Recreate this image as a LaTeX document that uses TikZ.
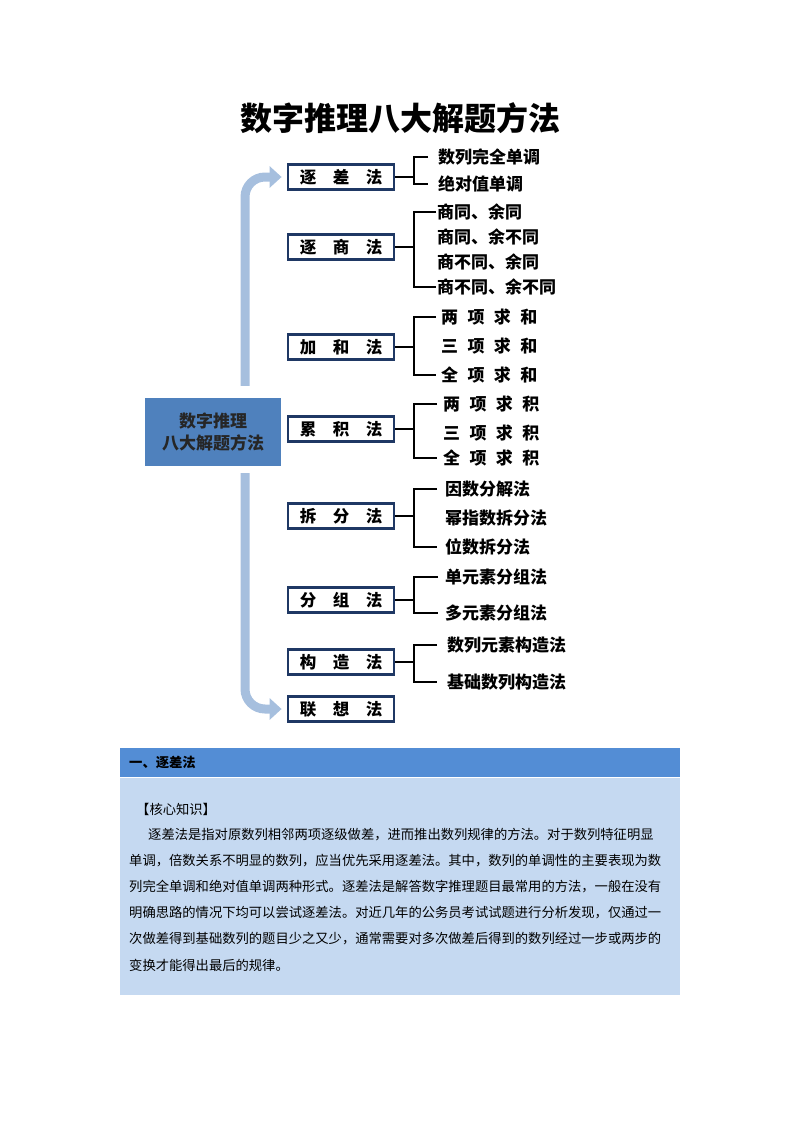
\documentclass[tikz,border=0pt]{standalone}
\usepackage{fontspec}
\setmainfont{Noto Sans CJK SC}
\usetikzlibrary{arrows.meta}
\definecolor{flowblue}{RGB}{166,191,222}
\definecolor{rootblue}{RGB}{79,129,189}
\definecolor{boxnavy}{RGB}{31,56,100}
\definecolor{headblue}{RGB}{83,141,213}
\definecolor{paleblue}{RGB}{197,217,241}
\newcommand\jg{\hspace{0.55em}}
\tikzset{
    method/.style={draw=boxnavy, line width=2.8pt, fill=white, minimum width=106pt,
        minimum height=25pt, inner sep=0pt, font=\fontsize{16.5}{16.5}\selectfont\bfseries},
    leaf/.style={anchor=west, inner sep=0pt, font=\fontsize{17}{17}\selectfont\bfseries},
    brk/.style={line width=1.6pt},
    flow/.style={draw=flowblue, line width=9pt, rounded corners=20pt,
        -{Triangle[width=21pt,length=12pt]}},
    body/.style={anchor=west, inner sep=0pt, font=\fontsize{13.3}{13.3}\selectfont},
}
\begin{document}
\begin{tikzpicture}[x=1pt, y=-1pt]
    \useasboundingbox (0,0) rectangle (800,1132);
    \node [font=\fontsize{32}{32}\selectfont\bfseries] (title) at (400,118) {数字推理八大解题方法};
    \coordinate (ax) at (245,0);
    \coordinate (bx) at (414,0);
    % root
    \node [fill=rootblue, minimum width=136pt, minimum height=68pt, inner sep=0pt, align=center,
        text=black!85, font=\fontsize{17}{21.5}\selectfont\bfseries] (root) at (213,432) {数字推理\\八大解题方法};
    % methods
    \foreach \i/\y/\txt in {1/177/逐\quad 差\quad 法, 2/247/逐\quad 商\quad 法, 3/347/加\quad 和\quad 法,
        4/429/累\quad 积\quad 法, 5/516/拆\quad 分\quad 法, 6/600/分\quad 组\quad 法,
        7/662/构\quad 造\quad 法, 8/709/联\quad 想\quad 法}
        \node [method] (m\i) at (341,\y) {\txt};
    % leaves
    \foreach \n/\x/\y/\txt in {1a/438/157/数列完全单调, 1b/438/184/绝对值单调,
        2a/437/212/商同、余同, 2b/437/237/商同、余不同, 2c/437/262/商不同、余同, 2d/437/287/商不同、余不同,
        3a/441/317/两\jg 项\jg 求\jg 和, 3b/441/346/三\jg 项\jg 求\jg 和, 3c/441/375/全\jg 项\jg 求\jg 和,
        4a/443/404/两\jg 项\jg 求\jg 积, 4b/443/433/三\jg 项\jg 求\jg 积, 4c/443/458/全\jg 项\jg 求\jg 积,
        5a/445/489/因数分解法, 5b/445/518/幂指数拆分法, 5c/445/547/位数拆分法,
        6a/445/577/单元素分组法, 6b/445/613/多元素分组法,
        7a/447/645/数列元素构造法, 7b/447/682/基础数列构造法}
        \node [leaf] (c\n) at (\x,\y) {\txt};
    % brackets
    \foreach \m/\a/\b/\t in {1/1a/1b/428, 2/2a/2d/436, 3/3a/3c/436, 4/4a/4c/437,
        5/5a/5c/437, 6/6a/6b/438, 7/7a/7b/437} {
        \coordinate (tx) at (\t,0);
        \draw [brk] (m\m.east) -- (m\m.east -| bx);
        \draw [brk] (c\a.west -| tx) -| (m\m.east -| bx) |- (c\b.west -| tx);
    }
    % flow arrows
    \draw [flow] ([yshift=12pt]root.north -| ax) |- ([xshift=-5pt]m1.west);
    \draw [flow] ([yshift=-7pt]root.south -| ax) |- ([xshift=-5pt]m8.west);
    % text block
    \fill [headblue] (120,748) rectangle (680,776.5);
    \fill [paleblue] (120,777.5) rectangle (680,995);
    \node [body, font=\fontsize{13.3}{13.3}\selectfont\bfseries] (head) at (129,762) {一、逐差法};
    \node [body] (key) at (136,809) {【核心知识】};
    \node [body] (l1) at (148,835) {逐差法是指对原数列相邻两项逐级做差，进而推出数列规律的方法。对于数列特征明显};
    \foreach \k/\y/\txt in {2/861/单调，倍数关系不明显的数列，应当优先采用逐差法。其中，数列的单调性的主要表现为数,
        3/887/列完全单调和绝对值单调两种形式。逐差法是解答数字推理题目最常用的方法，一般在没有,
        4/913/明确思路的情况下均可以尝试逐差法。对近几年的公务员考试试题进行分析发现，仅通过一,
        5/939/次做差得到基础数列的题目少之又少，通常需要对多次做差后得到的数列经过一步或两步的,
        6/965/变换才能得出最后的规律。}
        \node [body] (l\k) at (129,\y) {\txt};
\end{tikzpicture}
\end{document}
